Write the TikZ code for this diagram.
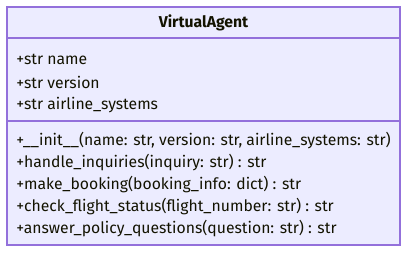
\documentclass[tikz,border=0pt]{standalone}
\usepackage{fontspec}
\setmainfont{Fira Sans}
\usetikzlibrary{positioning}

\definecolor{umlfill}{HTML}{ECECFF}
\definecolor{umlborder}{HTML}{9370DB}
\definecolor{umltext}{HTML}{131300}

\begin{document}
\begin{tikzpicture}[
        x=0.75pt, y=-0.75pt,
        classbox/.style={draw=umlborder, fill=umlfill, line width=0.9pt},
        divider/.style={draw=umlborder, line width=0.9pt},
        member/.style={inner sep=0pt, minimum height=16.7pt, text=umltext, font=\fontsize{11.8}{13}\selectfont},
        method/.style={member, minimum height=16.1pt},
        classname/.style={inner sep=0pt, text=umltext, font=\bfseries\fontsize{11.8}{13}\selectfont}
    ]
    \useasboundingbox (0,0) rectangle (416,258);

    % class frame and compartments
    \draw[classbox] (7,7) rectangle (400,245);
    \draw[divider] (7,38) -- (400,38);
    \draw[divider] (7,121) -- (400,121);

    \node[classname] (title) at (203.5,23) {VirtualAgent};

    % attributes
    \node[member, anchor=north west] (name) at (16,48) {+str name};
    \node[member, below right=0pt of name.south west] (version) {+str version};
    \node[member, below right=0pt of version.south west] (systems) {+str airline\_systems};

    % methods
    \node[method, anchor=north west] (init) at (16,130) {+\_\_init\_\_(name: str, version: str, airline\_systems: str)};
    \node[method, below right=0pt of init.south west] (inquiries) {+handle\_inquiries(inquiry: str) : str};
    \node[method, below right=0pt of inquiries.south west] (booking) {+make\_booking(booking\_info: dict) : str};
    \node[method, below right=0pt of booking.south west] (status) {+check\_flight\_status(flight\_number: str) : str};
    \node[method, below right=0pt of status.south west] (policy) {+answer\_policy\_questions(question: str) : str};

\end{tikzpicture}
\end{document}
